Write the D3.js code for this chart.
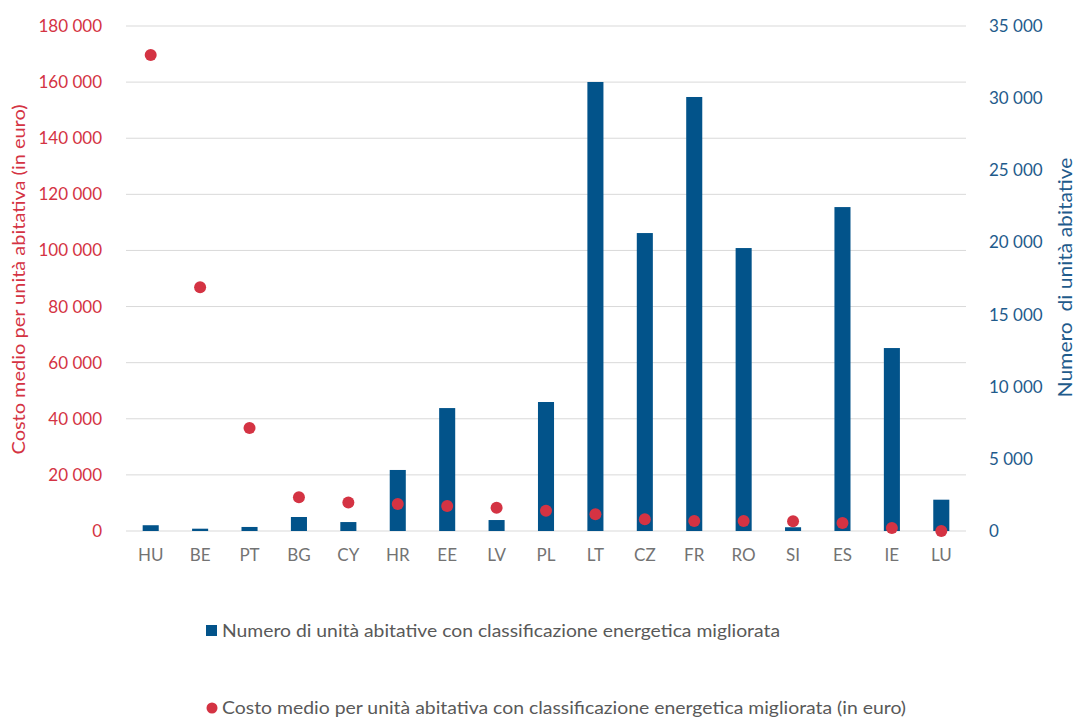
<!DOCTYPE html>
<html>
<head>
<meta charset="utf-8">
<script src="https://cdn.jsdelivr.net/npm/d3@7"></script>
<style>
  body { margin: 0; background: #fff; }
  text { font-family: Lato, "Open Sans", sans-serif; }
</style>
</head>
<body>
<div id="chart"></div>
<script>
let svgWidth = 1075;
let svgHeight = 718;

let margin = { top: 26, right: 109, bottom: 187, left: 126 };

let width = svgWidth - margin.left - margin.right;
let height = svgHeight - margin.top - margin.bottom;

// data
let countries = ["HU", "BE", "PT", "BG", "CY", "HR", "EE", "LV", "PL", "LT", "CZ", "FR", "RO", "SI", "ES", "IE", "LU"];
let units = [400, 160, 280, 970, 620, 4230, 8520, 760, 8940, 31120, 20650, 30080, 19610, 260, 22450, 12680, 2170];
let costs = [169700, 86900, 36700, 12000, 10200, 9600, 8900, 8300, 7200, 5950, 4150, 3550, 3550, 3500, 2850, 1050, 0];
let leftTicks = [0, 20000, 40000, 60000, 80000, 100000, 120000, 140000, 160000, 180000];
let rightTicks = [0, 5000, 10000, 15000, 20000, 25000, 30000, 35000];

let data = countries.map((c, i) => ({ c: c, units: units[i], cost: costs[i] }));

let red = "#d43343";
let blue = "#02538a";
let gray = "#595959";

let fmt = d => d3.format(",")(d).replace(/,/g, " ");

let svg = d3.select("#chart")
  .append("svg")
  .attr("width", svgWidth)
  .attr("height", svgHeight);

let chartGroup = svg.append("g")
  .attr("transform", `translate(${margin.left}, ${margin.top})`);

let x = d3.scaleBand()
  .domain(countries)
  .range([0, width])
  .paddingInner(0.675)
  .paddingOuter(0.3375);

let yLeft = d3.scaleLinear().domain([0, 180000]).range([height, 0]);
let yRight = d3.scaleLinear().domain([0, 35000]).range([height, 0]);

// gridlines
chartGroup.append("g")
  .selectAll("line")
  .data(leftTicks)
  .enter()
  .append("line")
  .attr("x1", 0)
  .attr("x2", width)
  .attr("y1", d => yLeft(d))
  .attr("y2", d => yLeft(d))
  .attr("stroke", "#d9d9d9")
  .attr("stroke-width", 1);

// left axis
let leftAxis = chartGroup.append("g")
  .attr("transform", "translate(-21, 0)")
  .call(d3.axisLeft(yLeft).tickValues(leftTicks).tickFormat(fmt).tickSize(0));
leftAxis.select(".domain").remove();
leftAxis.selectAll("text")
  .attr("fill", red)
  .attr("font-size", "17px")
  .attr("font-family", "Lato, sans-serif");

// right axis
let rightAxis = chartGroup.append("g")
  .attr("transform", `translate(${width + 20}, 0)`)
  .call(d3.axisRight(yRight).tickValues(rightTicks).tickFormat(fmt).tickSize(0));
rightAxis.select(".domain").remove();
rightAxis.selectAll("text")
  .attr("fill", "#1f5b8c")
  .attr("font-size", "17px")
  .attr("font-family", "Lato, sans-serif");

// bottom axis
let bottomAxis = chartGroup.append("g")
  .attr("transform", `translate(0, ${height + 15})`)
  .call(d3.axisBottom(x).tickSize(0));
bottomAxis.select(".domain").remove();
bottomAxis.selectAll("text")
  .attr("fill", "#737373")
  .attr("font-size", "17px")
  .attr("font-family", "Lato, sans-serif");

// bars
chartGroup.selectAll(".bar")
  .data(data)
  .enter()
  .append("rect")
  .attr("class", "bar")
  .attr("x", d => x(d.c))
  .attr("width", x.bandwidth())
  .attr("y", d => yRight(d.units))
  .attr("height", d => height - yRight(d.units))
  .attr("fill", blue);

// dots
chartGroup.selectAll(".dot")
  .data(data)
  .enter()
  .append("circle")
  .attr("class", "dot")
  .attr("cx", d => x(d.c) + x.bandwidth() / 2)
  .attr("cy", d => yLeft(d.cost))
  .attr("r", 6)
  .attr("fill", red);

// axis titles
chartGroup.append("text")
  .attr("transform", `translate(${20 - margin.left}, ${height / 2 + 1}) rotate(-90)`)
  .attr("text-anchor", "middle")
  .attr("dominant-baseline", "middle")
  .attr("fill", red)
  .attr("font-size", "18px")
  .attr("textLength", 350)
  .attr("lengthAdjust", "spacingAndGlyphs")
  .text("Costo medio per unità abitativa (in euro)");

chartGroup.append("text")
  .attr("transform", `translate(${width + 101}, ${height / 2 - 1}) rotate(-90)`)
  .attr("text-anchor", "middle")
  .attr("dominant-baseline", "middle")
  .attr("fill", "#1f5b8c")
  .attr("font-size", "19px")
  .attr("textLength", 240)
  .attr("lengthAdjust", "spacingAndGlyphs")
  .attr("xml:space", "preserve")
  .text("Numero  di unità abitative");

// legend
let legend = svg.append("g");
legend.append("rect")
  .attr("x", 206)
  .attr("y", 625)
  .attr("width", 11)
  .attr("height", 11)
  .attr("fill", blue);
legend.append("text")
  .attr("x", 222)
  .attr("y", 637)
  .attr("fill", gray)
  .attr("font-size", "18px")
  .attr("textLength", 558)
  .attr("lengthAdjust", "spacingAndGlyphs")
  .text("Numero di unità abitative con classificazione energetica migliorata");

legend.append("circle")
  .attr("cx", 212)
  .attr("cy", 708)
  .attr("r", 5.5)
  .attr("fill", red);
legend.append("text")
  .attr("x", 222)
  .attr("y", 714)
  .attr("fill", gray)
  .attr("font-size", "18px")
  .attr("textLength", 684)
  .attr("lengthAdjust", "spacingAndGlyphs")
  .text("Costo medio per unità abitativa con classificazione energetica migliorata (in euro)");
</script>
</body>
</html>
